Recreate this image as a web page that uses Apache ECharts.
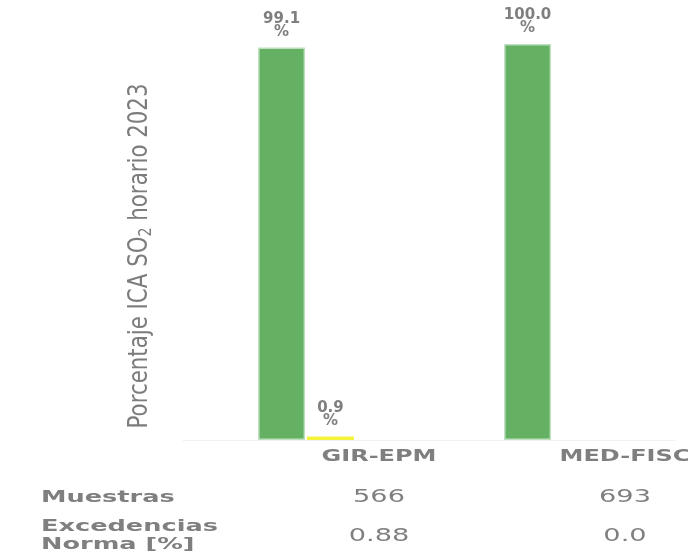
<!DOCTYPE html>
<html>
<head>
<meta charset="utf-8">
<script src="https://cdn.jsdelivr.net/npm/echarts@6/dist/echarts.min.js"></script>
<style>
html,body{margin:0;padding:0;background:#fff;}
#chart{width:688px;height:556px;}
</style>
</head>
<body>
<div id="chart"></div>
<script>
// ---- data ----
const categories = ['GIR-EPM', 'MED-FISC'];
const buena = [99.1, 100.0];
const aceptable = [0.9, 0];
const muestras = ['566', '693'];
const excedencias = ['0.88', '0.0'];
const rowLabels = ['Muestras', 'Excedencias\nNorma [%]'];
const yTitleParts = ['Porcentaje ICA SO', '2', ' horario 2023'];

const gray = '#7f7f7f';
const chart = echarts.init(document.getElementById('chart'), null, {renderer: 'canvas'});

function barLabel(p) {
  return p.value > 0 ? p.value.toFixed(1) + '\n%' : '';
}
const labelStyle = {
  show: true, position: 'top', distance: 9,
  formatter: barLabel, color: gray, fontFamily: 'DejaVu Sans',
  fontWeight: 'bold', fontSize: 15, lineHeight: 13, align: 'center'
};

const option = {
  animation: false,
  grid: {left: 183, right: 13, top: 44, bottom: 116, containLabel: false},
  xAxis: {
    type: 'category', data: categories,
    axisLine: {show: true, lineStyle: {color: '#f1f1f1', width: 1}},
    axisTick: {show: false},
    axisLabel: {show: false}
  },
  yAxis: {type: 'value', min: 0, max: 100, show: false, splitLine: {show: false}},
  series: [
    {
      name: 'Buena', type: 'bar', data: buena,
      barWidth: 47, barGap: '4%',
      itemStyle: {color: '#64b164', borderColor: '#bfe0bf', borderWidth: 1.5},
      label: labelStyle
    },
    {
      name: 'Aceptable', type: 'bar', data: aceptable,
      barWidth: 47, barGap: '4%',
      itemStyle: {color: '#f4f43c'},
      label: labelStyle
    }
  ]
};
chart.setOption(option);

// table-like texts placed from the category axis scale
const SX = 1.6;       // horizontal stretch of the reference texts
const colShift = 73;  // table columns sit right of the bar groups
const graphics = [
  {
    type: 'text', x: 140, y: 256, rotation: Math.PI / 2, scaleX: 0.79,
    style: {
      text: yTitleParts[0] + '{sub|' + yTitleParts[1] + '}' + yTitleParts[2],
      fill: '#7c7c7c', font: '27px "DejaVu Sans", sans-serif',
      align: 'center', verticalAlign: 'middle',
      rich: {sub: {fontSize: 18, fontFamily: '"DejaVu Sans", sans-serif',
        fill: '#7c7c7c', padding: [12, 0, 0, 0]}}
    }
  },
  {
    type: 'text', x: 41, y: 498, scaleX: SX,
    style: {text: rowLabels[0], fill: gray, font: 'bold 16px "DejaVu Sans"',
      align: 'left', verticalAlign: 'middle'}
  },
  {
    type: 'text', x: 41, y: 536, scaleX: SX,
    style: {text: rowLabels[1], fill: gray, font: 'bold 16px "DejaVu Sans"',
      lineHeight: 18, align: 'left', verticalAlign: 'middle'}
  }
];
categories.forEach(function (c, i) {
  const px = chart.convertToPixel({xAxisIndex: 0}, c) + colShift;
  graphics.push({
    type: 'text', x: px, y: 457, scaleX: SX,
    style: {text: c, fill: gray, font: 'bold 15px "DejaVu Sans"',
      align: 'center', verticalAlign: 'middle'}
  });
  graphics.push({
    type: 'text', x: px, y: 498, scaleX: SX,
    style: {text: muestras[i], fill: gray, font: '17px "DejaVu Sans"',
      align: 'center', verticalAlign: 'middle'}
  });
  graphics.push({
    type: 'text', x: px, y: 537, scaleX: SX,
    style: {text: excedencias[i], fill: gray, font: '17px "DejaVu Sans"',
      align: 'center', verticalAlign: 'middle'}
  });
});
chart.setOption({graphic: graphics});
</script>
</body>
</html>
